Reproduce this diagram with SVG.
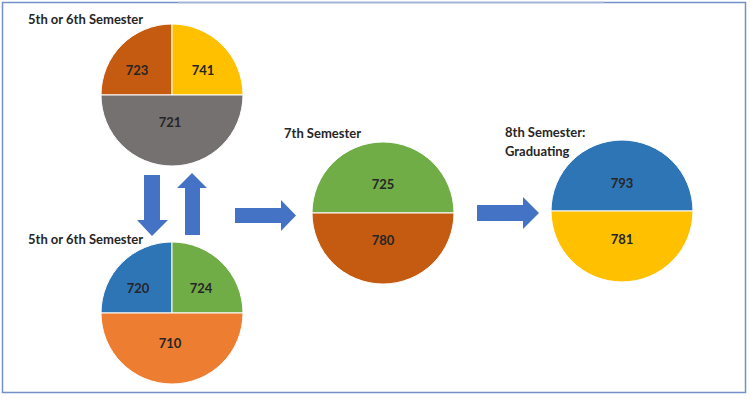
<svg xmlns="http://www.w3.org/2000/svg" width="750" height="398" viewBox="0 0 750 398">
<style>
.t{font-family:Lato,"Liberation Sans",sans-serif;font-weight:bold;font-size:13px;fill:#262626}
.l{font-family:Lato,"Liberation Sans",sans-serif;font-weight:bold;font-size:13px;fill:#262626;text-anchor:middle}
.s{stroke:#ffffff;stroke-width:1}
.a{fill:#4472C4}
</style>
<rect x="0" y="0" width="750" height="398" fill="#ffffff"/>
<rect x="2.5" y="2.5" width="743" height="390" fill="none" stroke="#7391c8" stroke-width="1.5"/>
<line x1="178" y1="2.5" x2="604" y2="2.5" stroke="#a3b6d6" stroke-width="1.5"/>

<g id="pie-top">
<text class="t" x="28" y="24">5th or 6th Semester</text>
<path class="s" d="M172,95 L101,95 A71,71 0 0 1 172,24 Z" fill="#C55A11"/>
<path class="s" d="M172,95 L172,24 A71,71 0 0 1 243,95 Z" fill="#FFC000"/>
<path class="s" d="M101,95 A71,71 0 0 0 243,95 Z" fill="#767171"/>
<text class="l" x="137" y="75">723</text>
<text class="l" x="203" y="75">741</text>
<text class="l" x="170" y="127">721</text>
</g>

<g id="pie-bottom">
<text class="t" x="28" y="244">5th or 6th Semester</text>
<path class="s" d="M172,313 L101,313 A71,71 0 0 1 172,242 Z" fill="#2E75B6"/>
<path class="s" d="M172,313 L172,242 A71,71 0 0 1 243,313 Z" fill="#70AD47"/>
<path class="s" d="M101,313 A71,71 0 0 0 243,313 Z" fill="#ED7D31"/>
<text class="l" x="138" y="293">720</text>
<text class="l" x="201" y="293">724</text>
<text class="l" x="170" y="348">710</text>
</g>

<g id="pie-7th">
<text class="t" x="284" y="138">7th Semester</text>
<path class="s" d="M312,213 A71,71 0 0 1 454,213 Z" fill="#70AD47"/>
<path class="s" d="M312,213 A71,71 0 0 0 454,213 Z" fill="#C55A11"/>
<text class="l" x="383" y="189">725</text>
<text class="l" x="383" y="245">780</text>
</g>

<g id="pie-8th">
<text class="t" x="505" y="137">8th Semester:</text>
<text class="t" x="505" y="156">Graduating</text>
<path class="s" d="M551,211 A71,71 0 0 1 693,211 Z" fill="#2E75B6"/>
<path class="s" d="M551,211 A71,71 0 0 0 693,211 Z" fill="#FFC000"/>
<text class="l" x="622" y="188">793</text>
<text class="l" x="622" y="244">781</text>
</g>

<g id="connectors">
<path class="a" d="M144,175 L160,175 L160,220 L168,220 L152,236 L137,220 L144,220 Z"/>
<path class="a" d="M185,235 L200,235 L200,188 L207,188 L192,173 L177,188 L185,188 Z"/>
<path class="a" d="M235,208 L281,208 L281,200 L296,215.5 L281,231 L281,223 L235,223 Z"/>
<path class="a" d="M477,205 L523,205 L523,197 L539,213 L523,229 L523,221 L477,221 Z"/>
</g>
</svg>
